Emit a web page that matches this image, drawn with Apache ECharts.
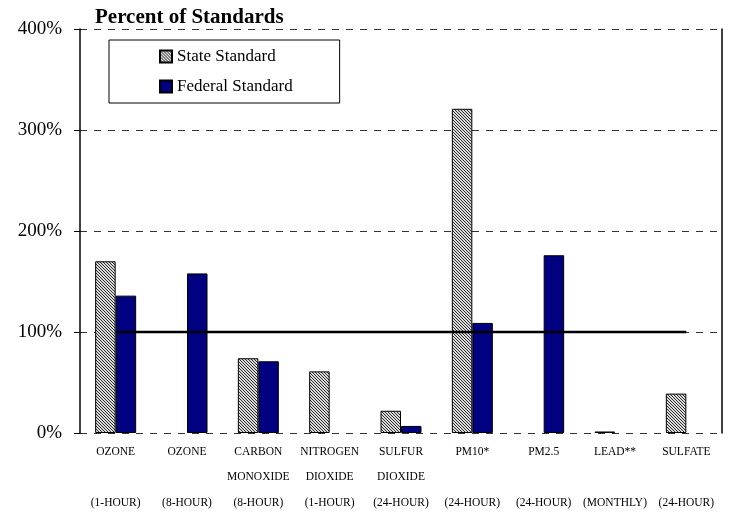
<!DOCTYPE html>
<html>
<head>
<meta charset="utf-8">
<script src="https://cdn.jsdelivr.net/npm/echarts@6/dist/echarts.min.js"></script>
<style>
  html, body { margin: 0; padding: 0; background: #fff; }
  #chart { width: 729px; height: 512px; }
</style>
</head>
<body>
<div id="chart"></div>
<script>
// categories (pollutant / averaging time)
const categories = [
  'OZONE\n\n(1-HOUR)',
  'OZONE\n\n(8-HOUR)',
  'CARBON\nMONOXIDE\n(8-HOUR)',
  'NITROGEN\nDIOXIDE\n(1-HOUR)',
  'SULFUR\nDIOXIDE\n(24-HOUR)',
  'PM10*\n\n(24-HOUR)',
  'PM2.5\n\n(24-HOUR)',
  'LEAD**\n\n(MONTHLY)',
  'SULFATE\n\n(24-HOUR)'
]
// percent of standard, '-' = no standard
const stateData = [170, '-', 74, 61, 22, 321, '-', 1.5, 39]
const federalData = [136, 158, 71, '-', 7, 109, 176, '-', '-']
const standardLine = [100, 100, 100, 100, 100, 100, 100, 100, 100]

const fontFamily = '"Liberation Serif", "Times New Roman", serif'

// hatched fill like the original state bars
function makeHatch () {
  const c = document.createElement('canvas')
  c.width = 3
  c.height = 3
  const ctx = c.getContext('2d')
  ctx.fillStyle = '#dcdcdc'
  ctx.fillRect(0, 0, 3, 3)
  ctx.fillStyle = '#2a2a2a'
  for (let i = 0; i < 3; i++) ctx.fillRect(i, i, 1, 1)
  return c
}
const hatch = { image: makeHatch(), repeat: 'repeat' }

const chart = echarts.init(document.getElementById('chart'))
const options = {
  animation: false,
  title: {
    text: 'Percent of Standards',
    left: 90,
    top: 2,
    textStyle: {
      color: '#000',
      fontFamily: fontFamily,
      fontWeight: 'bold',
      fontSize: 21
    }
  },
  legend: {
    orient: 'vertical',
    left: 109,
    top: 40,
    padding: [8, 47, 8, 50],
    itemGap: 13,
    itemWidth: 12,
    itemHeight: 12,
    icon: 'rect',
    borderColor: '#000',
    borderWidth: 1,
    textStyle: {
      color: '#000',
      fontFamily: fontFamily,
      fontSize: 17
    },
    data: ['State Standard', 'Federal Standard']
  },
  grid: {
    left: 80,
    right: 7,
    top: 29,
    bottom: 79,
    outerBoundsMode: 'none'
  },
  xAxis: {
    type: 'category',
    data: categories,
    axisLine: { show: false },
    axisTick: { show: false },
    axisLabel: {
      interval: 0,
      color: '#000',
      fontFamily: fontFamily,
      fontSize: 11.5,
      lineHeight: 25.5,
      margin: 6
    }
  },
  yAxis: [{
    type: 'value',
    min: 0,
    max: 400,
    interval: 100,
    axisLine: {
      show: true,
      lineStyle: { color: '#000', width: 1.5 }
    },
    axisTick: {
      show: true,
      length: 6,
      lineStyle: { color: '#000' }
    },
    axisLabel: {
      formatter: '{value}%',
      color: '#000',
      fontFamily: fontFamily,
      fontSize: 19,
      margin: 18
    },
    splitLine: {
      show: true,
      lineStyle: { color: '#333', type: [7, 7], width: 1 }
    }
  }, {
    type: 'value',
    position: 'right',
    min: 0,
    max: 400,
    interval: 100,
    axisLine: {
      show: true,
      lineStyle: { color: '#000', width: 1.5 }
    },
    axisTick: { show: false },
    axisLabel: { show: false },
    splitLine: { show: false }
  }],
  series: [{
    name: 'State Standard',
    type: 'bar',
    barWidth: 20.5,
    barGap: 0,
    itemStyle: {
      color: hatch,
      borderColor: '#000',
      borderWidth: 1
    },
    data: stateData
  }, {
    name: 'Federal Standard',
    type: 'bar',
    barWidth: 20.5,
    barGap: 0,
    itemStyle: {
      color: '#000080',
      borderColor: '#000',
      borderWidth: 1
    },
    data: federalData
  }, {
    name: 'Standard',
    type: 'line',
    symbol: 'none',
    z: 5,
    lineStyle: { color: '#000', width: 2.5 },
    data: standardLine
  }]
}
chart.setOption(options)
</script>
</body>
</html>
